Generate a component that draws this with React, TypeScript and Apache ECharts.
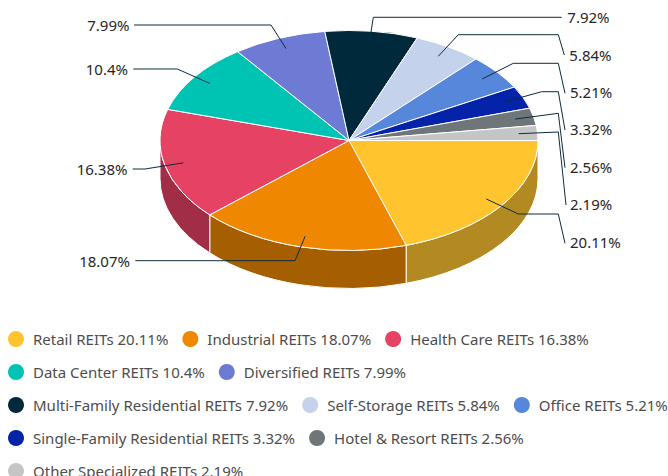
import React, { useEffect, useRef } from "react";
import * as echarts from "echarts";

const categories = [
  "Retail REITs", "Industrial REITs", "Health Care REITs", "Data Center REITs", "Diversified REITs",
  "Multi-Family Residential REITs", "Self-Storage REITs", "Office REITs",
  "Single-Family Residential REITs", "Hotel & Resort REITs", "Other Specialized REITs",
];
const shares = [20.11, 18.07, 16.38, 10.4, 7.99, 7.92, 5.84, 5.21, 3.32, 2.56, 2.19];
const topColors = [
  "#FFC42E", "#F08700", "#E64264", "#00C4B3", "#6D7BD4", "#00293B",
  "#C5D2EC", "#5787DB", "#0523A8", "#6F767A", "#C4C6C5",
];
const sideColors = [
  "#B38A21", "#A65F00", "#A12E46", "#008A7E", "#4C5695", "#001D29",
  "#8A93A5", "#3D5F99", "#041976", "#4E5356", "#898B8A",
];

// Layout of the pie and of its outside labels
const CX = 349, CY = 140.5, RX = 189, RY = 110, DEPTH = 38, ANCHOR = 0.9;
const labelLayouts: { x: number; y: number; align: string; bends: number[][] }[] = [
  { x: 570, y: 242, align: "left", bends: [[518.3, 214], [558.3, 214], [565, 243.3]] },
  { x: 130, y: 261, align: "right", bends: [[295, 260.7], [135.3, 260.7]] },
  { x: 127.5, y: 169, align: "right", bends: [[145, 169], [132.7, 169]] },
  { x: 128, y: 69, align: "right", bends: [[177.3, 69], [133.3, 69]] },
  { x: 129.5, y: 25, align: "right", bends: [[271, 25], [134, 25]] },
  { x: 567.3, y: 17, align: "left", bends: [[373.3, 17.3], [561.7, 17.3]] },
  { x: 569.3, y: 54.5, align: "left", bends: [[458.3, 34.7], [558.3, 34.7], [564.3, 55]] },
  { x: 570, y: 92, align: "left", bends: [[513.3, 63.3], [558.3, 63.3], [565, 93.3]] },
  { x: 570, y: 129, align: "left", bends: [[541.7, 91.7], [558.3, 91.7], [565, 130]] },
  { x: 570, y: 166.5, align: "left", bends: [[558.3, 113.3], [565, 167.7]] },
  { x: 570, y: 204, align: "left", bends: [[558.3, 132], [566, 205]] },
];

const total = shares.reduce((a, b) => a + b, 0);
const angleAt = (v: number) => (v / total) * Math.PI * 2;
const startOf = (i: number) => angleAt(shares.slice(0, i).reduce((a, b) => a + b, 0));
const px = (t: number, r = 1) => CX + RX * r * Math.cos(t);
const py = (t: number, r = 1) => CY + RY * r * Math.sin(t);

function topPath(a: number, b: number) {
  const large = b - a > Math.PI ? 1 : 0;
  return `M${CX} ${CY}L${px(a)} ${py(a)}A${RX} ${RY} 0 ${large} 1 ${px(b)} ${py(b)}Z`;
}
function sidePath(a: number, b: number) {
  const s = Math.max(a, 0), e = Math.min(b, Math.PI);
  return (
    `M${px(s)} ${py(s)}A${RX} ${RY} 0 0 1 ${px(e)} ${py(e)}` +
    `L${px(e)} ${py(e) + DEPTH}A${RX} ${RY} 0 0 0 ${px(s)} ${py(s) + DEPTH}Z`
  );
}

export default function App() {
  const ref = useRef<HTMLDivElement>(null);
  useEffect(() => {
    const chart = echarts.init(ref.current!, undefined, { renderer: "svg" });
    const sliceSeries = categories.map((name, i) => ({
      type: "custom",
      name,
      coordinateSystem: "none",
      data: [shares[i]],
      z: 2,
      itemStyle: { color: topColors[i] },
      silent: true,
      renderItem: (_p: any, api: any) => {
        const a = startOf(i);
        const b = a + angleAt(api.value(0));
        const children: any[] = [];
        if (a < Math.PI) {
          children.push({
            type: "path",
            shape: { pathData: sidePath(a, b) },
            style: { fill: sideColors[i], stroke: "#ffffff", lineWidth: 1, lineJoin: "round" },
          });
        }
        children.push({
          type: "path",
          shape: { pathData: topPath(a, b) },
          style: { fill: topColors[i], stroke: "#ffffff", lineWidth: 1, lineJoin: "round" },
        });
        return { type: "group", children };
      },
    }));
    const labelSeries = {
      type: "custom",
      name: "labels",
      coordinateSystem: "none",
      data: shares.map((v) => [v]),
      z: 5,
      silent: true,
      renderItem: (p: any, api: any) => {
        const i = p.dataIndex;
        const v = api.value(0);
        const mid = startOf(i) + angleAt(v) / 2;
        const layout = labelLayouts[i];
        return {
          type: "group",
          children: [
            {
              type: "polyline",
              shape: { points: [[px(mid, ANCHOR), py(mid, ANCHOR)], ...layout.bends] },
              style: { fill: "none", stroke: "#0D2C3B", lineWidth: 1 },
            },
            {
              type: "text",
              style: {
                text: `${v}%`,
                x: layout.x,
                y: layout.y,
                align: layout.align,
                verticalAlign: "middle",
                fill: "#262626",
                font: '15px "Noto Sans"',
              },
            },
          ],
        };
      },
    };
    chart.setOption({
      animation: false,
      backgroundColor: "#ffffff",
      legend: {
        data: categories.map((name) => ({ name, icon: "circle" })),
        type: "plain",
        orient: "horizontal",
        left: 8,
        top: 329.5,
        width: 660,
        itemWidth: 16,
        itemHeight: 16,
        itemGap: 14,
        selectedMode: false,
        padding: 0,
        align: "left",
        formatter: (name: string) => `${name} ${shares[categories.indexOf(name)]}%`,
        textStyle: {
          fontFamily: "Noto Sans",
          fontSize: 15,
          color: "#4D4D4D",
          padding: [0, 0, 0, 4],
          lineHeight: 19,
        },
      },
      series: [...sliceSeries, labelSeries],
    });
    return () => chart.dispose();
  }, []);
  return <div ref={ref} style={{ position: "absolute", left: 0, top: 0, width: 668, height: 476 }} />;
}
